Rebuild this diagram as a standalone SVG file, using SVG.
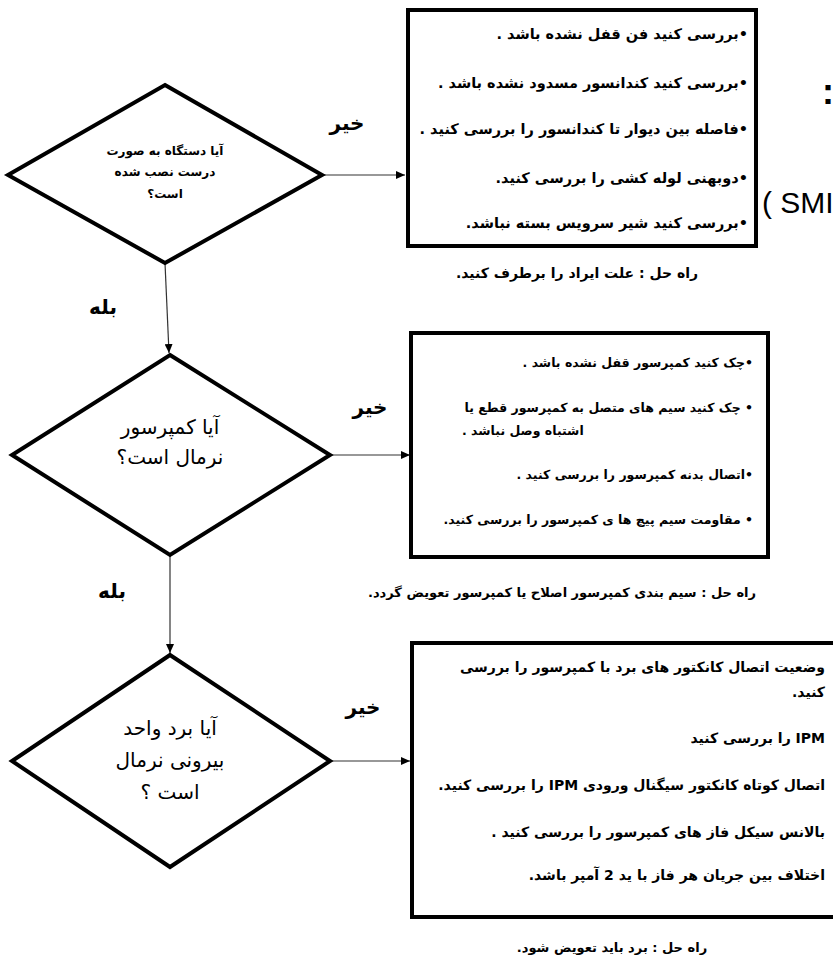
<svg xmlns="http://www.w3.org/2000/svg" width="833" height="961" viewBox="0 0 833 961">
<style>
.fa{font-family:"DejaVu Sans",sans-serif;direction:rtl;unicode-bidi:embed;fill:#000}
.dm{font-size:20px}
.lbl{font-size:20px;font-weight:bold}
.sol{font-size:13px;font-weight:bold}
.box{fill:#fff;stroke:#000;stroke-width:4}
.dia{fill:#fff;stroke:#000;stroke-width:4;stroke-linejoin:miter}
.con{stroke:#333;stroke-width:1.2;fill:none}
.en{font-family:"Liberation Sans",Arial,sans-serif;fill:#000;direction:ltr;unicode-bidi:bidi-override}
</style>
<defs>
<marker id="ah" markerWidth="10" markerHeight="8" refX="9" refY="4" orient="auto" markerUnits="userSpaceOnUse">
<path d="M0,0 L9,4 L0,8 Z" fill="#000"/>
</marker>
</defs>
<rect width="833" height="961" fill="#fff"/>

<g id="connectors">
<line class="con" x1="322" y1="175" x2="405" y2="175" marker-end="url(#ah)"/>
<line class="con" x1="165" y1="263" x2="169" y2="353" marker-end="url(#ah)"/>
<line class="con" x1="330" y1="455" x2="410" y2="455" marker-end="url(#ah)"/>
<line class="con" x1="170" y1="555" x2="170" y2="653" marker-end="url(#ah)"/>
<line class="con" x1="330" y1="761" x2="410" y2="761" marker-end="url(#ah)"/>
<text class="fa lbl" x="347" y="130" text-anchor="middle">خیر</text>
<text class="fa lbl" x="103" y="314" text-anchor="middle">بله</text>
<text class="fa lbl" x="370" y="414" text-anchor="middle">خیر</text>
<text class="fa lbl" x="112" y="598" text-anchor="middle">بله</text>
<text class="fa lbl" x="363" y="714" text-anchor="middle">خیر</text>
</g>

<g id="q1">
<polygon class="dia" points="165,85 322,175 165,263 8,175"/>
<text class="fa" style="font-size:12px;font-weight:bold" x="165" text-anchor="middle"><tspan x="165" y="155">آیا دستگاه به صورت</tspan><tspan x="165" y="176">درست نصب شده</tspan><tspan x="165" y="198">است؟</tspan></text>
</g>

<g id="box1">
<rect class="box" x="408" y="10" width="348" height="236"/>
<text class="fa" style="font-size:14.5px;font-weight:bold" x="748" text-anchor="start"><tspan x="748" y="39">•بررسی کنید فن قفل نشده باشد .</tspan><tspan x="748" y="88">•بررسی کنید کندانسور مسدود نشده باشد .</tspan><tspan x="748" y="134">•فاصله بین دیوار تا کندانسور را بررسی کنید .</tspan><tspan x="748" y="183">•دوبهنی لوله کشی را بررسی کنید.</tspan><tspan x="748" y="228">•بررسی کنید شیر سرویس بسته نباشد.</tspan></text>
<text class="fa" style="font-size:14px;font-weight:bold" x="577" y="278" text-anchor="middle">راه حل : علت ایراد را برطرف کنید.</text>
</g>

<g id="q2">
<polygon class="dia" points="170,355 330,455 170,555 12,455"/>
<text class="fa dm" x="170" text-anchor="middle"><tspan x="170" y="434">آیا کمپرسور</tspan><tspan x="170" y="464">نرمال است؟</tspan></text>
</g>

<g id="box2">
<rect class="box" x="411" y="333" width="357" height="224"/>
<text class="fa" style="font-size:12.5px;font-weight:bold" x="753" text-anchor="start"><tspan x="753" y="367">•چک کنید کمپرسور قفل نشده باشد .</tspan><tspan x="753" y="412">• چک کنید سیم های متصل به کمپرسور قطع یا</tspan><tspan x="753" y="479">•اتصال بدنه کمپرسور را بررسی کنید .</tspan><tspan x="753" y="524">• مقاومت سیم پیچ ها ی کمپرسور را بررسی کنید.</tspan></text>
<text class="fa" style="font-size:12.5px;font-weight:bold" x="462" y="435" text-anchor="end">اشتباه وصل  نباشد .</text>
<text class="fa sol" x="562" y="597" text-anchor="middle">راه حل : سیم بندی کمپرسور اصلاح یا کمپرسور تعویض گردد.</text>
</g>

<g id="q3">
<polygon class="dia" points="170,655 330,761 170,867 12,761"/>
<text class="fa dm" x="170" text-anchor="middle"><tspan x="170" y="735">آیا برد واحد</tspan><tspan x="170" y="767">بیرونی نرمال</tspan><tspan x="170" y="799">است ؟</tspan></text>
</g>

<g id="box3">
<rect class="box" x="412" y="643" width="440" height="274"/>
<text class="fa" style="font-size:14px;font-weight:bold" x="825" text-anchor="start"><tspan x="825" y="672">وضعیت اتصال کانکتور های برد با کمپرسور را بررسی</tspan><tspan x="825" y="697">کنید.</tspan><tspan x="825" y="743">IPM را بررسی کنید</tspan><tspan x="825" y="790">اتصال کوتاه کانکتور سیگنال ورودی IPM  را بررسی کنید.</tspan><tspan x="825" y="837">بالانس سیکل  فاز های کمپرسور را بررسی کنید .</tspan><tspan x="825" y="880">اختلاف بین جریان هر فاز با ید 2 آمپر باشد.</tspan></text>
<text class="fa sol" x="612" y="952" text-anchor="middle">راه حل : برد باید تعویض شود.</text>
</g>

<text class="en" x="822" y="104" font-size="36" font-weight="bold">:</text>
<text class="en" x="762" y="213" font-size="30">( SMI</text>
</svg>
